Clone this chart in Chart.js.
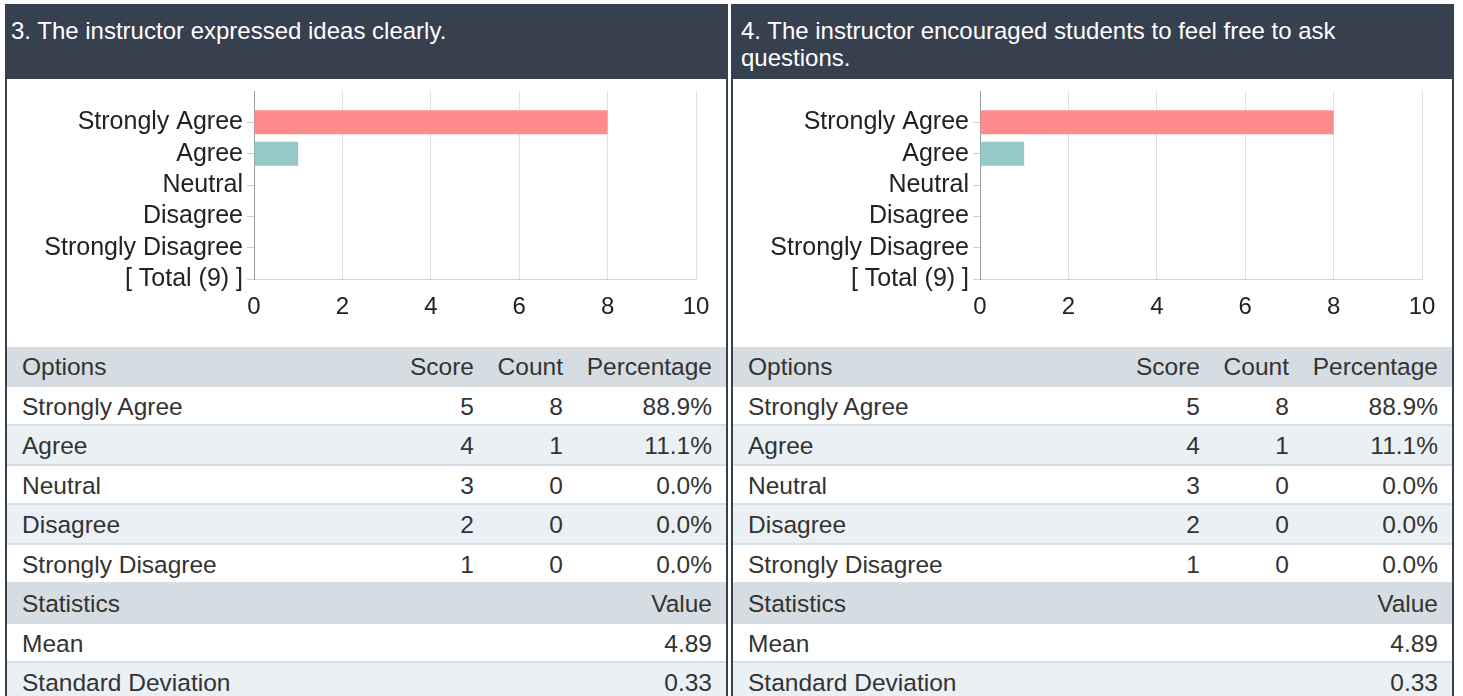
<!DOCTYPE html>
<html>
<head>
<meta charset="utf-8">
<script src="https://cdn.jsdelivr.net/npm/chart.js@4/dist/chart.umd.min.js"></script>
<style>
  body { margin: 0; background: #fff; font-family: "Liberation Sans", Arial, sans-serif; }
  .panel { position: absolute; top: 4px; width: 723px; height: 700px; box-sizing: border-box;
           border-left: 2px solid #36404e; border-right: 2px solid #36404e; }
  .head { height: 75px; box-sizing: border-box; background: #36404e; color: #fff;
          font-size: 24px; line-height: 27px; padding: 13px 10px 0 4px; }
  #p1 .head { padding-left: 8px; }
  .chartBox { position: relative; width: 719px; height: 268px; }
  table { width: 719px; table-layout: fixed; border-collapse: collapse; font-size: 24.5px; color: #333; }
  td { height: 37.5px; padding: 2px 0 0 0; line-height: 35.5px; box-sizing: border-box; white-space: nowrap; }
  tr { border-bottom: 2px solid #d8dfe4; }
  tr.th { background: #d5dde2; border-bottom: 2px solid #d5dde2; }
  tr.alt { background: #ebf0f4; }
  td.l { padding-left: 15px; }
  td.r { text-align: right; }
  td.last { padding-right: 14px; }
</style>
</head>
<body>
<div class="panel" id="p0" style="left:5px"></div>
<div class="panel" id="p1" style="left:731px"></div>
<script>
// Survey data
const titles = [
  '3. The instructor expressed ideas clearly.',
  '4. The instructor encouraged students to feel free to ask questions.'
];
const options = ['Strongly Agree', 'Agree', 'Neutral', 'Disagree', 'Strongly Disagree'];
const scores = [5, 4, 3, 2, 1];
const counts3 = [8, 1, 0, 0, 0];
const counts4 = [8, 1, 0, 0, 0];
const percents3 = ['88.9%', '11.1%', '0.0%', '0.0%', '0.0%'];
const percents4 = ['88.9%', '11.1%', '0.0%', '0.0%', '0.0%'];
const totalLabels = ['[ Total (9) ]', '[ Total (9) ]'];
const means = ['4.89', '4.89'];
const stdDevs = ['0.33', '0.33'];
const barColors = ['#fe8b8b', '#95c8c8', '#f5c97a', '#a8b8e0', '#c9a0d8'];

function buildPanel(el, idx, counts, percents) {
    el.innerHTML =
        '<div class="head">' + titles[idx] + '</div>' +
        '<div class="chartBox"><canvas id="c' + idx + '"></canvas></div>' +
        '<table><colgroup><col style="width:380px"><col style="width:87px"><col style="width:89px"><col style="width:163px"></colgroup>' +
        '<tr class="th"><td class="l">Options</td><td class="r">Score</td><td class="r">Count</td><td class="r last">Percentage</td></tr>' +
        options.map((o, i) =>
            '<tr' + (i % 2 ? ' class="alt"' : '') + '><td class="l">' + o + '</td><td class="r">' + scores[i] +
            '</td><td class="r">' + counts[i] + '</td><td class="r last">' + percents[i] + '</td></tr>').join('') +
        '<tr class="th"><td class="l">Statistics</td><td class="r last" colspan="3">Value</td></tr>' +
        '<tr><td class="l">Mean</td><td class="r last" colspan="3">' + means[idx] + '</td></tr>' +
        '<tr class="alt"><td class="l">Standard Deviation</td><td class="r last" colspan="3">' + stdDevs[idx] + '</td></tr>' +
        '</table>';

    const labels = options.concat([totalLabels[idx]]);
    const ctx = document.getElementById('c' + idx).getContext('2d');
    new Chart(ctx, {
        type: 'bar',
        data: {
            datasets: [{
                data: counts.map((c, i) => ({ x: c, y: i })),
                backgroundColor: barColors,
                borderWidth: 0,
                categoryPercentage: 0.85,
                barPercentage: 0.9
            }]
        },
        options: {
            indexAxis: 'y',
            responsive: true,
            maintainAspectRatio: false,
            animation: false,
            layout: { padding: { top: 12, right: 30, left: 0, bottom: 0 } },
            plugins: { legend: { display: false }, tooltip: { enabled: false } },
            scales: {
                x: {
                    type: 'linear',
                    min: 0,
                    max: 10,
                    ticks: { stepSize: 2, padding: 14, color: '#222', font: { size: 24, family: '"Liberation Sans", Arial' } },
                    grid: { color: '#e2e2e2', drawTicks: false },
                    border: { color: '#d4d4d4' },
                    afterFit: s => { s.height = 68; }
                },
                y: {
                    type: 'linear',
                    reverse: true,
                    offset: false,
                    bounds: 'data',
                    min: -1,
                    max: 5,
                    afterBuildTicks: s => { s.ticks = labels.map((l, i) => ({ value: i })); },
                    ticks: {
                        autoSkip: false,
                        callback: v => labels[v],
                        padding: 4,
                        color: '#222',
                        font: { size: 25, family: '"Liberation Sans", Arial' }
                    },
                    grid: { offset: false, drawOnChartArea: false, drawTicks: true, tickLength: 7, color: '#cfcfcf' },
                    border: { color: '#999' },
                    afterFit: s => { s.width = 247; s.paddingTop = 0; s.paddingBottom = 0; }
                }
            }
        }
    });
}

buildPanel(document.getElementById('p0'), 0, counts3, percents3);
buildPanel(document.getElementById('p1'), 1, counts4, percents4);
</script>
</body>
</html>
